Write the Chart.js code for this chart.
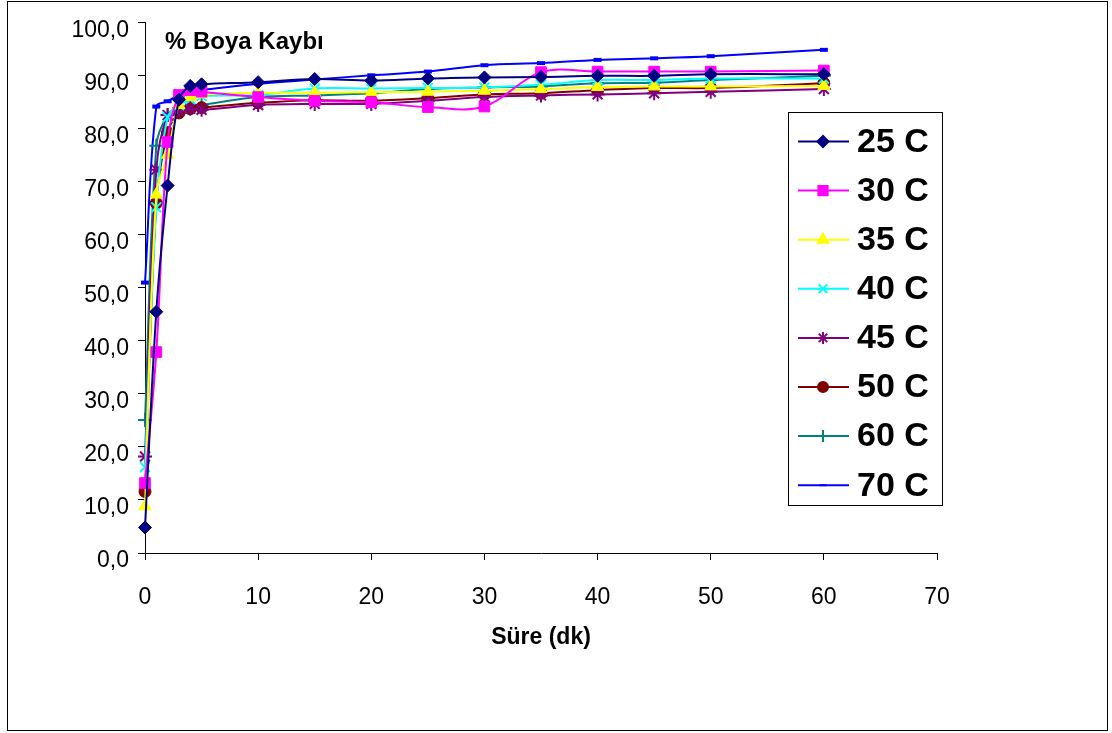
<!DOCTYPE html>
<html lang="tr">
<head>
  <meta charset="UTF-8">
  <title>% Boya Kaybı</title>
  <script src="https://cdn.jsdelivr.net/npm/chart.js"></script>
  <style>
    html, body {
      margin: 0;
      padding: 0;
      background: #ffffff;
    }
    #wrap {
      width: 1112px;
      height: 733px;
    }
  </style>
</head>
<body>
  <div id="wrap">
    <canvas id="boyaChart" width="1112" height="733"></canvas>
  </div>

  <script>
    // sure (dk)
    const times = [0, 1, 2, 3, 4, 5, 10, 15, 20, 25, 30, 35, 40, 45, 50, 60];

    const seriesNames = ['25 C', '30 C', '35 C', '40 C', '45 C', '50 C', '60 C', '70 C'];

    const s25 = [4.8, 45.5, 69.3, 85.5, 88.1, 88.4, 88.8, 89.4, 89.1, 89.5, 89.7, 89.8, 90.0, 90.0, 90.3, 90.3];
    const s30 = [13.2, 37.9, 77.5, 86.4, 87.3, 87.0, 86.0, 85.3, 85.0, 84.1, 84.2, 90.7, 90.8, 90.8, 90.8, 91.0];
    const s35 = [8.8, 67.6, 75.1, 84.5, 86.0, 86.5, 86.8, 86.8, 86.9, 87.0, 87.2, 87.5, 87.9, 88.0, 88.0, 88.1];
    const s40 = [16.2, 65.2, 82.2, 84.5, 85.6, 86.2, 86.4, 87.6, 87.6, 87.7, 87.8, 88.3, 89.2, 89.2, 89.5, 89.5];
    const s45 = [18.2, 72.3, 82.6, 83.4, 83.8, 83.6, 84.5, 84.7, 84.7, 85.3, 86.0, 86.3, 86.5, 86.7, 87.0, 87.5];
    const s50 = [11.6, 66.0, 79.3, 83.0, 83.8, 84.0, 84.9, 85.4, 85.3, 85.8, 86.5, 86.7, 87.3, 87.7, 87.7, 88.6];
    const s60 = [25.1, 76.8, 82.6, 83.9, 84.2, 84.5, 86.0, 86.3, 86.7, 87.5, 87.8, 88.0, 88.6, 88.7, 89.2, 90.0];
    const s70 = [51.0, 84.2, 85.2, 86.4, 87.1, 87.3, 88.5, 89.3, 90.1, 90.8, 92.0, 92.4, 93.0, 93.3, 93.7, 94.9];

    const allSeries = [s25, s30, s35, s40, s45, s50, s60, s70];

    const colors = ['#000080', '#FF00FF', '#FFFF00', '#00FFFF', '#800080', '#800000', '#008080', '#0000FF'];
    const markers = ['rectRot', 'rect', 'triangle', 'crossRot', 'star', 'circle', 'cross', 'line'];
    const markerSize = [6.5, 7.5, 7, 7, 7, 6, 7, 4];

    const yTicks = [0, 10, 20, 30, 40, 50, 60, 70, 80, 90, 100];
    const xTicks = [0, 10, 20, 30, 40, 50, 60, 70];

    const FONT = "'Liberation Sans', Arial, sans-serif";

    function fmt(v) {
      return v.toFixed(1).replace('.', ',');
    }

    const datasets = allSeries.map(function (vals, i) {
      const open = markers[i] === 'crossRot' || markers[i] === 'star' || markers[i] === 'cross' || markers[i] === 'line';
      return {
        label: seriesNames[i],
        data: vals.map(function (v, k) { return { x: times[k], y: v }; }),
        borderColor: colors[i],
        backgroundColor: colors[i],
        borderWidth: 2,
        pointStyle: markers[i],
        pointRadius: markerSize[i],
        pointBorderWidth: open ? (markers[i] === 'line' ? 4 : 2) : 1,
        pointBackgroundColor: colors[i],
        pointBorderColor: colors[i],
        tension: 0.35,
        clip: false
      };
    });

    // arka plan, cerceve, baslik ve lejant
    const decor = {
      id: 'decor',
      beforeDraw: function (chart) {
        const ctx = chart.ctx;
        ctx.save();
        ctx.fillStyle = '#ffffff';
        ctx.fillRect(0, 0, chart.width, chart.height);
        ctx.strokeStyle = '#000';
        ctx.lineWidth = 1;
        ctx.strokeRect(7.5, 1.5, 1100, 729);
        ctx.restore();
      },
      afterDraw: function (chart) {
        const ctx = chart.ctx;
        ctx.save();
        ctx.fillStyle = '#000';
        ctx.font = 'bold 24px ' + FONT;
        ctx.textBaseline = 'middle';
        ctx.textAlign = 'left';
        ctx.fillText('% Boya Kaybı', 165, 42);

        // lejant
        ctx.fillStyle = '#fff';
        ctx.fillRect(788, 112, 154, 393);
        ctx.strokeStyle = '#000';
        ctx.lineWidth = 1;
        ctx.strokeRect(788.5, 112.5, 154, 393);
        chart.data.datasets.forEach(function (ds, i) {
          const y = 141.5 + i * 49.1;
          ctx.strokeStyle = ds.borderColor;
          ctx.lineWidth = 2;
          ctx.beginPath();
          ctx.moveTo(798, y);
          ctx.lineTo(849, y);
          ctx.stroke();
          ctx.fillStyle = ds.borderColor;
          Chart.helpers.drawPoint(ctx, {
            pointStyle: ds.pointStyle,
            radius: ds.pointStyle === 'line' ? 3.5 : ds.pointRadius - 1,
            borderWidth: ds.pointBorderWidth,
            rotation: 0
          }, 823, y);
          ctx.fillStyle = '#000';
          ctx.font = 'bold 34px ' + FONT;
          ctx.textAlign = 'left';
          ctx.textBaseline = 'middle';
          ctx.fillText(ds.label, 857, y + 1);
        });
        ctx.restore();
      }
    };

    new Chart(document.getElementById('boyaChart').getContext('2d'), {
      type: 'line',
      data: { datasets: datasets },
      plugins: [decor],
      options: {
        responsive: false,
        animation: false,
        layout: { padding: { left: 0, top: 21, right: 175, bottom: 78 } },
        plugins: {
          legend: { display: false },
          tooltip: { enabled: false }
        },
        scales: {
          x: {
            type: 'linear',
            min: 0,
            max: 70,
            afterBuildTicks: function (s) { s.ticks = xTicks.map(function (v) { return { value: v }; }); },
            afterFit: function (s) { s.height = 102; },
            grid: { drawOnChartArea: false, drawTicks: true, tickLength: 7, color: '#000' },
            border: { color: '#000', width: 1 },
            ticks: {
              color: '#000',
              padding: 24,
              maxRotation: 0,
              font: { family: FONT, size: 23 }
            },
            title: {
              display: true,
              text: 'Süre (dk)',
              color: '#000',
              font: { family: FONT, size: 23, weight: 'bold' }
            }
          },
          y: {
            min: 0,
            max: 100,
            afterBuildTicks: function (s) { s.ticks = yTicks.map(function (v) { return { value: v }; }); },
            afterFit: function (s) { s.width = 145; },
            grid: { drawOnChartArea: false, drawTicks: true, tickLength: 7, color: '#000' },
            border: { color: '#000', width: 1 },
            ticks: {
              color: '#000',
              padding: 9,
              labelOffset: 8,
              font: { family: FONT, size: 23 },
              callback: function (v) { return fmt(v); }
            }
          }
        }
      }
    });
  </script>
</body>
</html>
